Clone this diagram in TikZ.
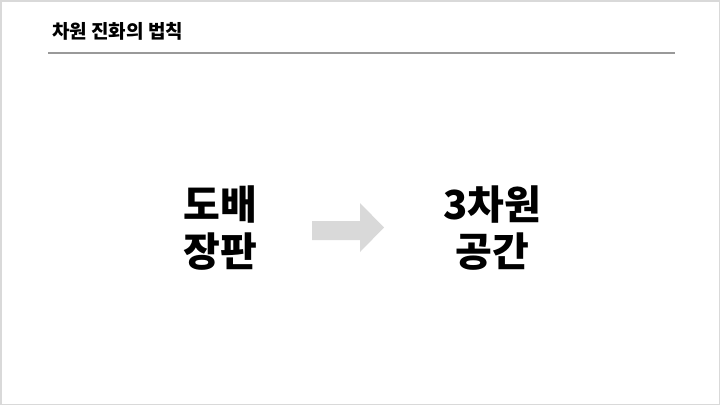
\documentclass[tikz,border=0pt]{standalone}
\usepackage{fontspec}
\setmainfont{Noto Sans CJK KR}
\definecolor{frame}{HTML}{D9D9D9}
\definecolor{rule}{HTML}{999999}
\definecolor{arrowgray}{HTML}{D9D9D9}
\begin{document}
\begin{tikzpicture}[x=1pt,y=-1pt,
  bigtext/.style={font=\bfseries\fontsize{40}{47}\selectfont, align=center, inner sep=0pt, text=black},
  titletext/.style={font=\bfseries\fontsize{19}{22}\selectfont, anchor=west, inner sep=0pt}]
  \useasboundingbox (0,0) rectangle (720,405);
  \draw[frame, line width=1.5pt] (0.75,0.75) rectangle (719.25,404.25);
  \node[titletext] (title) at (52,31) {차원 진화의 법칙};
  \coordinate (rl) at (48,53);
  \coordinate (rr) at (675,53);
  \draw[rule, line width=2pt] (rl) -- (rr);
  \node[bigtext] (left) at (220,228) {도배\\장판};
  \node[bigtext] (right) at (492,228) {3차원\\공간};
  \fill[arrowgray] (312,221) -- (360,221) -- (360,203) -- (384,227.5) -- (360,252) -- (360,240) -- (312,240) -- cycle;
\end{tikzpicture}
\end{document}
